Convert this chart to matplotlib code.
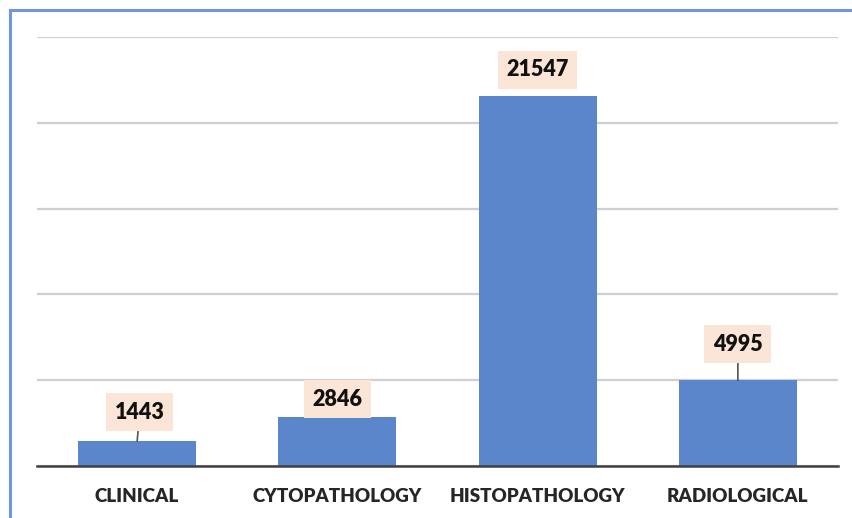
import matplotlib.pyplot as plt
from matplotlib.lines import Line2D

categories = ["CLINICAL", "CYTOPATHOLOGY", "HISTOPATHOLOGY", "RADIOLOGICAL"]
counts = [1443, 2846, 21547, 4995]
# label placement above each bar (points), and whether a leader line is drawn
label_offsets = [(2, 21), (0, 13), (0, 19), (0, 26)]
leader = [True, False, False, True]

fig = plt.figure(figsize=(8.53, 5.18), dpi=100)
ax = fig.add_axes([37 / 853, 52 / 518, 801 / 853, 429 / 518])

ax.bar(range(len(categories)), counts, width=0.59, color="#5b86cb", zorder=3)

ax.set_xlim(-0.5, len(categories) - 0.5)
ax.set_ylim(0, 25000)
ax.set_yticks(range(0, 25001, 5000))
ax.yaxis.grid(True, color="#cfcfcf", lw=1.6, zorder=0)
ax.tick_params(axis="y", length=0, labelleft=False)
ax.tick_params(axis="x", length=0, pad=16)
ax.set_xticks(range(len(categories)))
ax.set_xticklabels(categories, fontfamily="Lato", fontweight="heavy", fontsize=13.5, color="#262626")

for s in ["top", "right", "left"]:
    ax.spines[s].set_visible(False)
ax.spines["bottom"].set_color("#404040")
ax.spines["bottom"].set_linewidth(1.8)
ax.spines["bottom"].set_zorder(4)

for i, v in enumerate(counts):
    ax.annotate(str(v), xy=(i, v), xytext=label_offsets[i], textcoords="offset points",
                ha="center", va="center", fontfamily="Lato", fontweight="heavy", fontsize=15.5,
                color="#111111",
                bbox=dict(boxstyle="square,pad=0.4", fc="#fbe5d6", ec="none"),
                arrowprops=dict(arrowstyle="-", color="#555555", lw=1.2, shrinkA=0, shrinkB=0)
                if leader[i] else None,
                zorder=5)

# blue frame on the left and top of the chart area
fx, fy = 10 / 853, 1 - 10 / 518
fig.add_artist(Line2D([fx, fx], [0, fy], transform=fig.transFigure, color="#6f98dc", lw=2.2))
fig.add_artist(Line2D([fx, 1], [fy, fy], transform=fig.transFigure, color="#6f98dc", lw=2.2))

fig.savefig("out.png", dpi=100)
